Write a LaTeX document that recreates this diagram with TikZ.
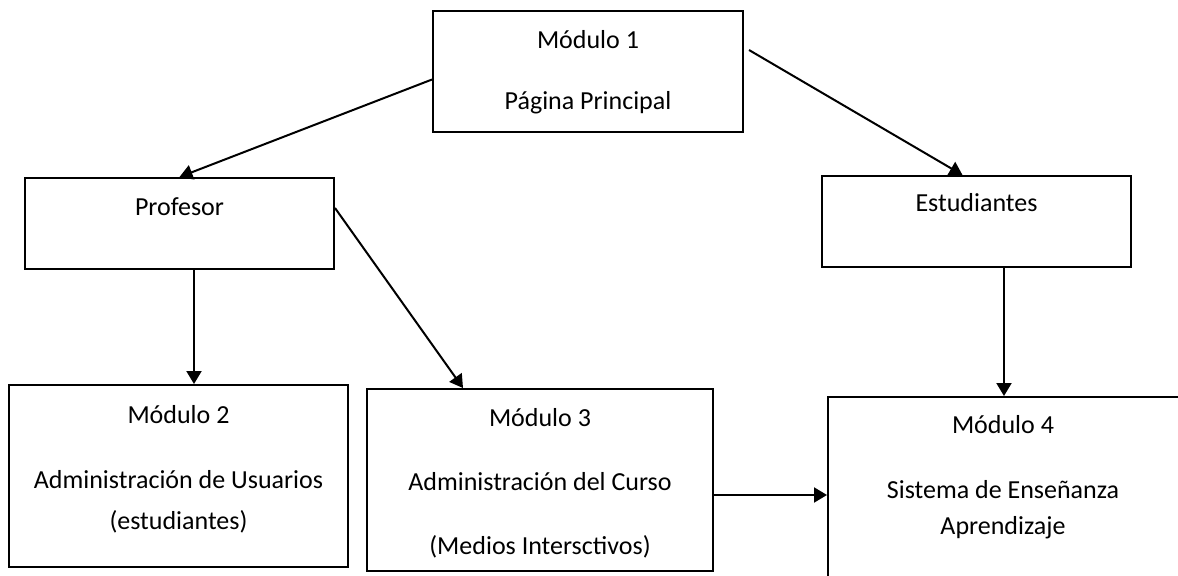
\documentclass[tikz,border=0pt]{standalone}
\usepackage{fontspec}
\setmainfont{Carlito}
\usetikzlibrary{arrows.meta,fit,calc}
\tikzset{
  box/.style={draw=black, line width=1pt, inner sep=0pt, fill=white},
  lbl/.style={font=\fontsize{13pt}{15pt}\selectfont, inner sep=0pt, anchor=center},
  arr/.style={draw=black, line width=1pt, -{Triangle[length=6.5pt,width=7.5pt]}},
}
\begin{document}
\begin{tikzpicture}[x=0.5pt,y=-0.5pt]
\useasboundingbox (0,0) rectangle (1178,575);
\clip (0,0) rectangle (1178,575);
\fill[white] (0,0) rectangle (1178,575);
% boxes
\node[box, fit={(433,11) (743,132)}] (m1) {};
\node[box, fit={(25,178) (334,269)}] (prof) {};
\node[box, fit={(822,176) (1131,267)}] (est) {};
\node[box, fit={(9,385) (348,567)}] (m2) {};
\node[box, fit={(367,389) (713,571)}] (m3) {};
\node[box, fit={(828,397) (1182,600)}] (m4) {};
% texts
\node[lbl] (t1a) at (588,40) {Módulo 1};
\node[lbl] (t1b) at (588,103) {Página Principal};
\node[lbl] (tp) at (179.5,207) {Profesor};
\node[lbl] (te) at (976.5,203) {Estudiantes};
\node[lbl] (t2a) at (178.5,415) {Módulo 2};
\node[lbl] (t2b) at (178.5,480) {Administración de Usuarios};
\node[lbl] (t2c) at (178.5,522) {(estudiantes)};
\node[lbl] (t3a) at (540,418) {Módulo 3};
\node[lbl] (t3b) at (540,482) {Administración del Curso};
\node[lbl] (t3c) at (540,547) {(Medios Intersctivos)};
\node[lbl] (t4a) at (1003,425) {Módulo 4};
\node[lbl] (t4b) at (1003,490) {Sistema de Enseñanza};
\node[lbl] (t4c) at (1003,528) {Aprendizaje};
% connectors
\draw[arr] ([yshift=-4pt]m1.west) -- (prof.north);
\draw[arr] ([shift={(2.5pt,10.75pt)}]m1.east) -- ([xshift=-7pt]est.north);
\draw[arr] ([xshift=7.25pt]prof.south) -- ([xshift=7.25pt]prof.south |- m2.north);
\draw[arr] ([yshift=7.75pt]prof.east) -- ([xshift=-38.5pt]m3.north);
\draw[arr] ([xshift=13.75pt]est.south) -- ([xshift=13.75pt]est.south |- m4.north);
\coordinate (s34) at ([shift={(-1pt,-7.5pt)}]m3.east);
\draw[arr] (s34) -- (s34 -| m4.west);
\end{tikzpicture}
\end{document}
